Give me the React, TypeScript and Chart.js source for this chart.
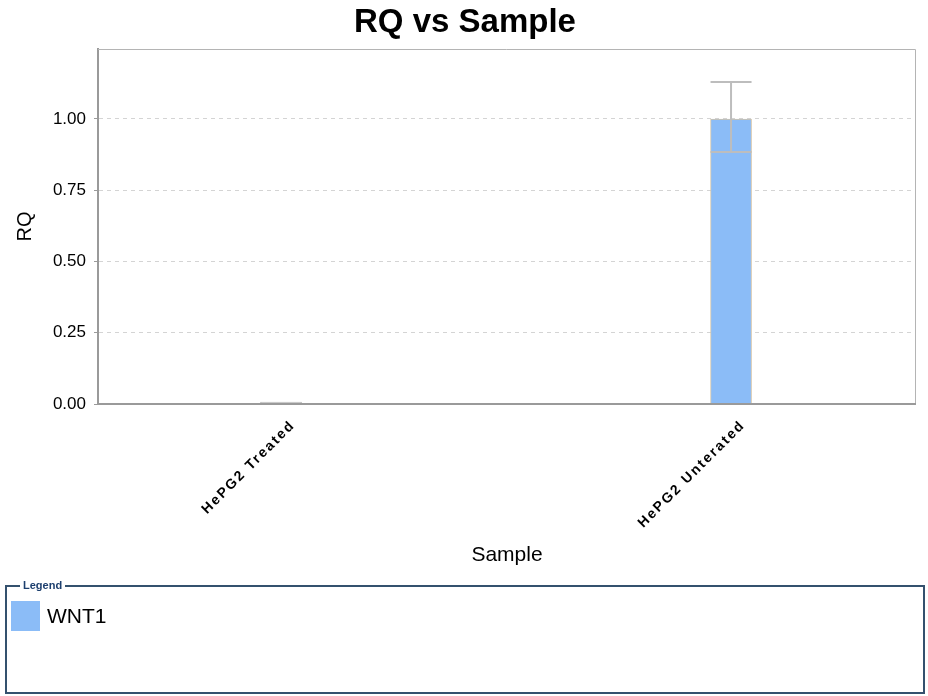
import React, { useEffect, useRef } from "react";
import { Chart, registerables } from "chart.js";

Chart.register(...registerables);

const categories = ["HePG2 Treated", "HePG2 Unterated"];
const rqValues = [0.007, 1.0];
const errLow = [null, 0.884];
const errHigh = [null, 1.13];
const yTicks = [0, 0.25, 0.5, 0.75, 1.0];
const seriesName = "WNT1";

const FONT = "'Liberation Sans', Arial, sans-serif";

export default function App() {
  const ref = useRef<HTMLCanvasElement | null>(null);

  useEffect(() => {
    document.body.style.margin = "0";
    const canvas = ref.current!;
    const frame = {
      id: "frameAndErrors",
      afterDatasetsDraw(chart: any) {
        const { ctx, chartArea, scales } = chart;
        const x = scales.x;
        const y = scales.y;
        ctx.save();
        // error bars
        ctx.strokeStyle = "#bdbdbd";
        ctx.lineWidth = 2;
        categories.forEach((_, i) => {
          const lo = errLow[i];
          const hi = errHigh[i];
          if (lo == null || hi == null) return;
          const px = x.getPixelForValue(i);
          const pl = y.getPixelForValue(lo);
          const ph = y.getPixelForValue(hi);
          const half = 20.5;
          ctx.beginPath();
          ctx.moveTo(px, pl);
          ctx.lineTo(px, ph);
          ctx.moveTo(px - half, ph);
          ctx.lineTo(px + half, ph);
          ctx.moveTo(px - half, pl);
          ctx.lineTo(px + half, pl);
          ctx.stroke();
        });
        // frame
        ctx.strokeStyle = "#b4b4b4";
        ctx.lineWidth = 1;
        ctx.beginPath();
        ctx.moveTo(chartArea.left, chartArea.top + 0.5);
        ctx.lineTo(chartArea.right - 0.5, chartArea.top + 0.5);
        ctx.lineTo(chartArea.right - 0.5, chartArea.bottom);
        ctx.stroke();
        ctx.strokeStyle = "#9a9a9a";
        ctx.lineWidth = 2;
        ctx.beginPath();
        ctx.moveTo(chartArea.left, chartArea.bottom);
        ctx.lineTo(chartArea.right, chartArea.bottom);
        ctx.stroke();
        // title
        ctx.fillStyle = "#000";
        ctx.font = `bold 33px ${FONT}`;
        ctx.textAlign = "center";
        ctx.textBaseline = "middle";
        ctx.fillText("RQ vs Sample", 465, 23);
        ctx.restore();
      },
    };

    const chart = new Chart(canvas, {
      type: "bar",
      data: {
        datasets: [
          {
            label: seriesName,
            data: rqValues.map((v, i) => ({ x: i, y: v })),
            backgroundColor: ["#e4e4e4", "#8bbcf7"],
            borderColor: ["#b0b0b0", "#d2c3a8"],
            borderWidth: 1,
            barThickness: 41,
          },
        ],
      },
      options: {
        animation: false,
        responsive: false,
        maintainAspectRatio: false,
        layout: { padding: { top: 49, right: 12, left: 0, bottom: 0 } },
        plugins: {
          legend: { display: false },
          title: { display: false },
          tooltip: { enabled: false },
        },
        scales: {
          x: {
            type: "linear",
            offset: false,
            min: -0.4067,
            max: 1.411,
            afterBuildTicks: (s: any) => {
              s.ticks = categories.map((_, i) => ({ value: i }));
            },
            afterFit: (s: any) => {
              s.height = 176;
              if (!s.__patched) {
                const orig = s.drawLabels;
                s.drawLabels = function (area: any) {
                  const c = this.ctx;
                  c.save();
                  c.letterSpacing = "2px";
                  orig.call(this, area);
                  c.restore();
                };
                s.__patched = true;
              }
            },
            grid: { display: false, offset: false },
            border: { display: false },
            ticks: {
              minRotation: 45,
              maxRotation: 45,
              autoSkip: false,
              padding: 5,
              labelOffset: 12,
              color: "#000",
              font: { family: FONT, size: 14, weight: "bold" },
              callback: (v: any) => categories[Math.round(v)] ?? "",
            },
            title: {
              display: true,
              text: "Sample",
              color: "#000",
              font: { family: FONT, size: 21 },
              padding: { top: 0, bottom: 12 },
            },
          },
          y: {
            min: 0,
            max: 1.2456,
            afterBuildTicks: (s: any) => {
              s.ticks = yTicks.map((v) => ({ value: v }));
            },
            afterFit: (s: any) => {
              s.width = 98;
            },
            grid: {
              color: (c: any) => (c.tick && c.tick.value === 0 ? "rgba(0,0,0,0)" : "#d4d4d4"),
              tickColor: "#9a9a9a",
              tickLength: 4,
              tickBorderDash: [],
            },
            border: { display: true, color: "#9a9a9a", width: 2, dash: [4, 4] },
            ticks: {
              padding: 8,
              color: "#000",
              font: { family: FONT, size: 17 },
              callback: (v: any) => Number(v).toFixed(2),
            },
            title: {
              display: true,
              text: "RQ",
              color: "#000",
              font: { family: FONT, size: 20 },
              padding: { top: 13, bottom: 0 },
            },
          },
        },
      },
      plugins: [frame],
    } as any);
    return () => chart.destroy();
  }, []);

  return (
    <div style={{ position: "relative", width: 928, height: 696, background: "#fff", fontFamily: FONT }}>
      <canvas ref={ref} width={928} height={580} style={{ position: "absolute", left: 0, top: 0, width: 928, height: 580 }} />
      <div
        style={{
          position: "absolute",
          left: 5,
          top: 585,
          width: 916,
          height: 105,
          border: "2px solid #34516e",
          boxSizing: "content-box",
        }}
      >
        <div
          style={{
            position: "absolute",
            left: 13,
            top: -8,
            background: "#fff",
            padding: "0 3px",
            fontSize: 11,
            fontWeight: "bold",
            color: "#1d3f6e",
            lineHeight: "13px",
          }}
        >
          Legend
        </div>
        <div style={{ position: "absolute", left: 4, top: 14, width: 29, height: 30, background: "#8bbcf7" }} />
        <div style={{ position: "absolute", left: 40, top: 17, fontSize: 21, color: "#000", lineHeight: "24px" }}>{seriesName}</div>
      </div>
    </div>
  );
}
